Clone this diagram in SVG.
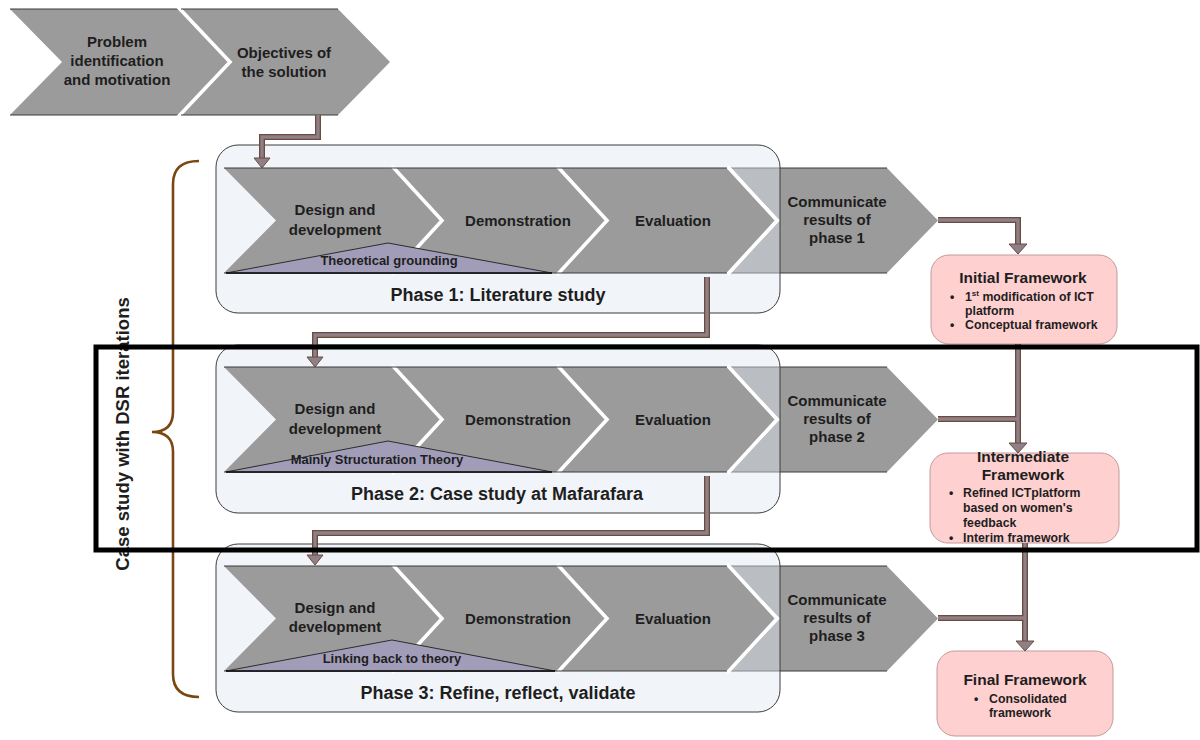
<svg xmlns="http://www.w3.org/2000/svg" width="1200" height="740" viewBox="0 0 1200 740">
  <defs>
    <style>
      text { font-family: "Liberation Sans", Arial, sans-serif; font-weight: bold; fill: #1e1e1e; }
      .chev { fill: #9b9b9b; }
      .gap { fill: none; stroke: #ffffff; stroke-width: 3.6; stroke-linejoin: miter; }
      .edge { stroke: #3a3a3a; stroke-width: 1; }
      .ctn { fill: #dfe6f2; fill-opacity: 0.45; stroke: #3c3c3c; stroke-width: 1; }
      .tri { fill: #a19db9; stroke: #2c2c2c; stroke-width: 1; }
      .base { stroke: #111; stroke-width: 1.6; }
      .c15 { font-size: 15px; text-anchor: middle; }
      .c13 { font-size: 13px; text-anchor: middle; }
      .phase { font-size: 18px; text-anchor: middle; }
      .fw { fill: #ffd0d0; stroke: #c49a9a; stroke-width: 1; }
      .fwt { font-size: 15.5px; text-anchor: middle; }
      .fwb { font-size: 12.3px; }
      .wire-o { fill: none; stroke: #6a4c3c; stroke-width: 6; stroke-linejoin: miter; }
      .wire-i { fill: none; stroke: #8f7f89; stroke-width: 3.4; stroke-linejoin: miter; }
      .head { fill: #8f7f89; stroke: #6a4c3c; stroke-width: 1; }
    </style>
    <!-- "Communicate results" step, drawn beneath the phase panel -->
    <g id="comm-shape">
      <polygon class="chev" points="730,168 887,168 938,220.5 887,273 730,273 780,220.5"/>
      <line class="edge" x1="730" y1="168" x2="887" y2="168"/>
      <line class="edge" x1="730" y1="273" x2="887" y2="273"/>
    </g>
    <!-- design / demonstration / evaluation steps with the theory wedge -->
    <g id="steps-shape">
      <polygon class="chev" points="224,168 392,168 442,220.5 392,273 224,273 276,220.5"/>
      <polygon class="chev" points="392,168 557,168 607,220.5 557,273 392,273 442,220.5"/>
      <polygon class="chev" points="557,168 727,168 777,220.5 727,273 557,273 607,220.5"/>
      <polyline class="gap" points="392,166 442,220.5 392,275"/>
      <polyline class="gap" points="557,166 607,220.5 557,275"/>
      <polyline class="gap" points="727,166 777,220.5 727,275"/>
      <line class="edge" x1="224" y1="168" x2="727" y2="168"/>
      <line class="edge" x1="224" y1="273" x2="727" y2="273"/>
    </g>
  </defs>

  <!-- top row: problem + objectives -->
  <g id="problem">
    <polygon class="chev" points="10,9 178,9 230,62 178,115 10,115 62,62"/>
    <line class="edge" x1="10" y1="9" x2="178" y2="9"/>
    <line class="edge" x1="10" y1="115" x2="178" y2="115"/>
    <text class="c15" x="117" y="47">Problem</text>
    <text class="c15" x="117" y="66">identification</text>
    <text class="c15" x="117" y="85">and motivation</text>
  </g>
  <g id="objectives">
    <polygon class="chev" points="178,9 338,9 390,62 338,115 178,115 230,62"/>
    <polyline class="gap" points="178,7 230,62 178,117"/>
    <line class="edge" x1="181" y1="9" x2="338" y2="9"/>
    <line class="edge" x1="181" y1="115" x2="338" y2="115"/>
    <text class="c15" x="284" y="58">Objectives of</text>
    <text class="c15" x="284" y="77">the solution</text>
  </g>

  <!-- phase 1 -->
  <g id="phase1">
    <use href="#comm-shape"/>
    <polyline class="gap" points="727,166 777,220.5 727,275"/>
    <rect class="ctn" x="216" y="145" width="564" height="168" rx="22"/>
    <use href="#steps-shape"/>
    <polygon class="tri" points="226,273 388,243 552,273"/>
    <line class="base" x1="226" y1="273" x2="552" y2="273"/>
    <text class="c15" x="335" y="215">Design and</text>
    <text class="c15" x="335" y="235">development</text>
    <text class="c15" x="518" y="226">Demonstration</text>
    <text class="c15" x="673" y="226">Evaluation</text>
    <text class="c15" x="837" y="207">Communicate</text>
    <text class="c15" x="837" y="225">results of</text>
    <text class="c15" x="837" y="243">phase 1</text>
    <text class="c13" x="389" y="265">Theoretical grounding</text>
    <text class="phase" x="498" y="301">Phase 1: Literature study</text>
  </g>

  <!-- phase 2 -->
  <g id="phase2">
    <use href="#comm-shape" transform="translate(0,199)"/>
    <rect class="ctn" x="216" y="345" width="564" height="168" rx="22"/>
    <use href="#steps-shape" transform="translate(0,199)"/>
    <polygon class="tri" points="226,472 388,441 552,472"/>
    <line class="base" x1="226" y1="472" x2="552" y2="472"/>
    <text class="c15" x="335" y="414">Design and</text>
    <text class="c15" x="335" y="434">development</text>
    <text class="c15" x="518" y="425">Demonstration</text>
    <text class="c15" x="673" y="425">Evaluation</text>
    <text class="c15" x="837" y="406">Communicate</text>
    <text class="c15" x="837" y="424">results of</text>
    <text class="c15" x="837" y="442">phase 2</text>
    <text class="c13" x="377" y="464">Mainly Structuration Theory</text>
    <text class="phase" x="497" y="500">Phase 2: Case study at Mafarafara</text>
  </g>

  <!-- phase 3 -->
  <g id="phase3">
    <use href="#comm-shape" transform="translate(0,398)"/>
    <rect class="ctn" x="216" y="544" width="564" height="168" rx="22"/>
    <use href="#steps-shape" transform="translate(0,398)"/>
    <polygon class="tri" points="226,671 392,640 555,671"/>
    <line class="base" x1="226" y1="671" x2="555" y2="671"/>
    <text class="c15" x="335" y="613">Design and</text>
    <text class="c15" x="335" y="632">development</text>
    <text class="c15" x="518" y="624">Demonstration</text>
    <text class="c15" x="673" y="624">Evaluation</text>
    <text class="c15" x="837" y="605">Communicate</text>
    <text class="c15" x="837" y="623">results of</text>
    <text class="c15" x="837" y="641">phase 3</text>
    <text class="c13" x="392" y="663">Linking back to theory</text>
    <text class="phase" x="498" y="699">Phase 3: Refine, reflect, validate</text>
  </g>

  <!-- framework outputs -->
  <g id="initial-framework">
    <rect class="fw" x="931" y="255" width="186" height="89" rx="18"/>
    <text class="fwt" x="1023" y="283">Initial Framework</text>
    <text class="fwb" x="950" y="301">•</text>
    <text class="fwb" x="965" y="301">1<tspan font-size="8" dy="-5">st</tspan><tspan dy="5"> modification of ICT</tspan></text>
    <text class="fwb" x="965" y="315">platform</text>
    <text class="fwb" x="950" y="329">•</text>
    <text class="fwb" x="965" y="329">Conceptual framework</text>
  </g>
  <g id="intermediate-framework">
    <rect class="fw" x="930" y="453" width="189" height="90" rx="18"/>
    <text class="fwt" x="1023" y="462">Intermediate</text>
    <text class="fwt" x="1023" y="480">Framework</text>
    <text class="fwb" x="949" y="497">•</text>
    <text class="fwb" x="963" y="497">Refined ICTplatform</text>
    <text class="fwb" x="963" y="512">based on women's</text>
    <text class="fwb" x="963" y="527">feedback</text>
    <text class="fwb" x="949" y="542">•</text>
    <text class="fwb" x="963" y="542">Interim framework</text>
  </g>
  <g id="final-framework">
    <rect class="fw" x="937" y="651" width="176" height="85" rx="18"/>
    <text class="fwt" x="1025" y="685">Final Framework</text>
    <text class="fwb" x="974" y="703">•</text>
    <text class="fwb" x="989" y="703">Consolidated</text>
    <text class="fwb" x="989" y="717">framework</text>
  </g>

  <!-- connectors -->
  <g id="connectors">
    <path class="wire-o" d="M318,115 V137 H262 V159"/>
    <path class="wire-o" d="M707,277 V335 H315 V358"/>
    <path class="wire-o" d="M707,476 V533 H315 V556"/>
    <path class="wire-o" d="M938,220 H1018 V245"/>
    <path class="wire-o" d="M1018,344 V444"/>
    <path class="wire-o" d="M938,419 H1018"/>
    <path class="wire-o" d="M1025,543 V642"/>
    <path class="wire-o" d="M938,618 H1025"/>
    <path class="wire-i" d="M318,115 V137 H262 V159"/>
    <path class="wire-i" d="M707,277 V335 H315 V358"/>
    <path class="wire-i" d="M707,476 V533 H315 V556"/>
    <path class="wire-i" d="M938,220 H1018 V245"/>
    <path class="wire-i" d="M1018,344 V444"/>
    <path class="wire-i" d="M938,419 H1018"/>
    <path class="wire-i" d="M1025,543 V642"/>
    <path class="wire-i" d="M938,618 H1025"/>
    <polygon class="head" points="254,158 270,158 262,168"/>
    <polygon class="head" points="307,357 323,357 315,367"/>
    <polygon class="head" points="307,555 323,555 315,565"/>
    <polygon class="head" points="1009,244 1027,244 1018,254"/>
    <polygon class="head" points="1009,443 1027,443 1018,453"/>
    <polygon class="head" points="1016,641 1034,641 1025,651"/>
  </g>

  <!-- brace and its caption -->
  <g id="iterations">
    <path d="M199,161 C183,161 173,168 173,184 L173,412 C173,425 166,432 152,432 C166,432 173,439 173,452 L173,674 C173,690 183,697 199,697" fill="none" stroke="#7a4712" stroke-width="2.6"/>
    <text font-size="18.5px" text-anchor="middle" transform="translate(129,434) rotate(-90)">Case study with DSR iterations</text>
  </g>

  <!-- highlight frame around phase 2 -->
  <rect id="highlight" x="96" y="347" width="1101" height="203" fill="none" stroke="#000" stroke-width="5"/>
</svg>
